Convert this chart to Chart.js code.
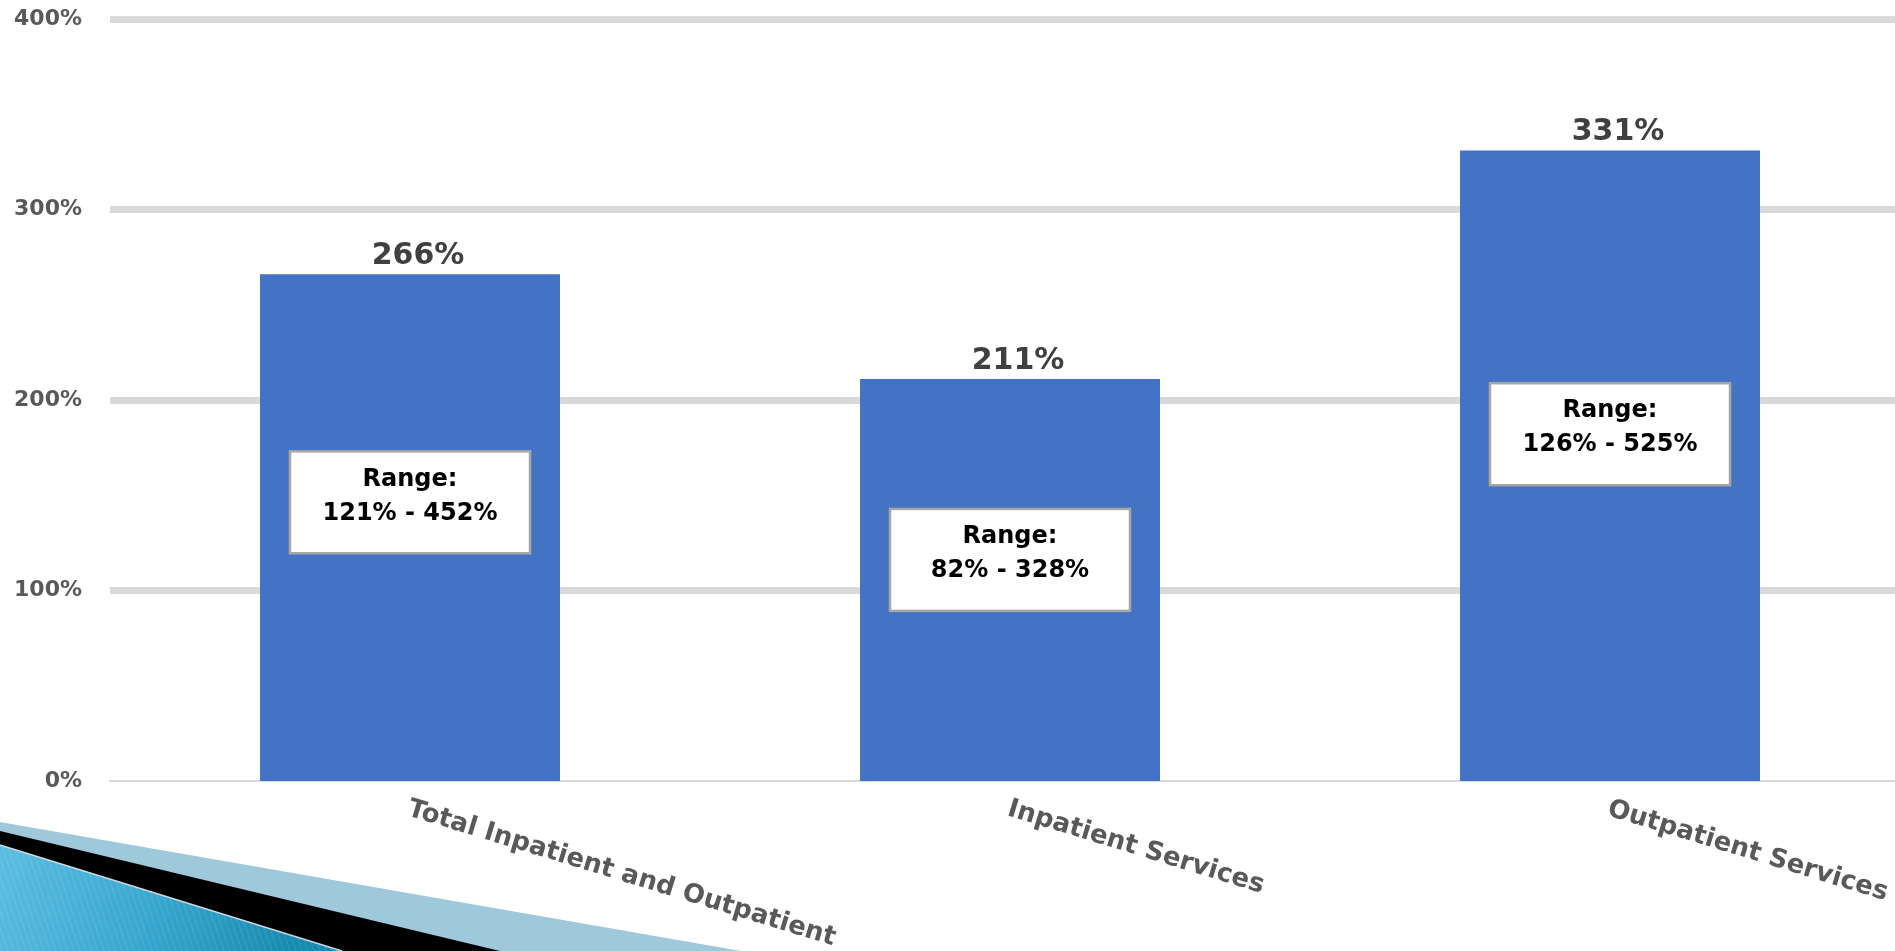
<!DOCTYPE html>
<html>
<head>
<meta charset="utf-8">
<title>Average and range by service line</title>
<script src="https://cdn.jsdelivr.net/npm/chart.js@4.4.1/dist/chart.umd.min.js"></script>
<style>
  html, body { margin: 0; padding: 0; background: #fff; overflow: hidden; }
  #wrap { width: 1895px; height: 951px; overflow: hidden; }
</style>
</head>
<body>
<div id="wrap"><canvas id="chart" width="1912" height="951"></canvas></div>
<script>
const categories = ['Total Inpatient and Outpatient', 'Inpatient Services', 'Outpatient Services'];
const averagePct = [266, 211, 331];
const rangeLow = [121, 82, 126];
const rangeHigh = [452, 328, 525];

const FONT = 'DejaVu Sans';

// slide theme corner: pale band, black band and striped blue wedge
const slideCorner = {
    id: 'slideCorner',
    beforeDraw(chart) {
        const ctx = chart.ctx;
        const h = chart.height;
        ctx.save();
        ctx.fillStyle = '#fff';
        ctx.fillRect(0, 0, chart.width, h);

        ctx.fillStyle = '#9fc9da';
        ctx.beginPath();
        ctx.moveTo(0, h - 129);
        ctx.lineTo(741, h);
        ctx.lineTo(0, h);
        ctx.closePath();
        ctx.fill();

        ctx.fillStyle = '#000';
        ctx.beginPath();
        ctx.moveTo(0, h - 120);
        ctx.lineTo(500, h);
        ctx.lineTo(0, h);
        ctx.closePath();
        ctx.fill();

        const grad = ctx.createLinearGradient(0, h - 106, 300, h);
        grad.addColorStop(0, '#5cbde2');
        grad.addColorStop(0.5, '#3aa7cf');
        grad.addColorStop(1, '#148aae');
        ctx.fillStyle = grad;
        ctx.beginPath();
        ctx.moveTo(0, h - 106);
        ctx.lineTo(342, h);
        ctx.lineTo(0, h);
        ctx.closePath();
        ctx.fill();

        // fine stripes inside the wedge
        ctx.save();
        ctx.clip();
        ctx.strokeStyle = 'rgba(255,255,255,0.10)';
        ctx.lineWidth = 1.2;
        for (let x = -60; x < 360; x += 6) {
            ctx.beginPath();
            ctx.moveTo(x, h - 110);
            ctx.lineTo(x + 38, h);
            ctx.stroke();
        }
        ctx.restore();

        ctx.strokeStyle = 'rgba(225,232,236,0.9)';
        ctx.lineWidth = 1.5;
        ctx.beginPath();
        ctx.moveTo(0, h - 106);
        ctx.lineTo(342, h);
        ctx.stroke();
        ctx.restore();
    }
};

// value above each bar and the white "Range" box inside it
const barNotes = {
    id: 'barNotes',
    afterDatasetsDraw(chart, args, opts) {
        const ctx = chart.ctx;
        const yScale = chart.scales.y;
        const meta = chart.getDatasetMeta(0);
        ctx.save();
        meta.data.forEach((bar, i) => {
            const cx = bar.x;
            const cy = yScale.getPixelForValue(averagePct[i] * opts.boxAt);
            const w = opts.boxWidth;
            const hh = opts.boxHeight;

            ctx.fillStyle = '#fff';
            ctx.fillRect(cx - w / 2, cy - hh / 2, w, hh);
            ctx.strokeStyle = '#a6a6a6';
            ctx.lineWidth = 2.5;
            ctx.strokeRect(cx - w / 2, cy - hh / 2, w, hh);

            ctx.fillStyle = '#000';
            ctx.font = 'bold 24px "' + FONT + '"';
            ctx.textAlign = 'center';
            ctx.textBaseline = 'middle';
            ctx.fillText('Range:', cx, cy - 23);
            ctx.fillText(rangeLow[i] + '% - ' + rangeHigh[i] + '%', cx, cy + 11);

            ctx.fillStyle = '#404040';
            ctx.font = 'bold 30px "' + FONT + '"';
            ctx.textBaseline = 'alphabetic';
            ctx.fillText(averagePct[i] + '%', cx + 8, bar.y - 10);
        });
        ctx.restore();
    }
};

// category names slanted downward to the right, starting at the bar centre
const slantedLabels = {
    id: 'slantedLabels',
    afterDraw(chart, args, opts) {
        const ctx = chart.ctx;
        const xScale = chart.scales.x;
        ctx.save();
        ctx.fillStyle = '#595959';
        ctx.font = 'bold 26px "' + FONT + '"';
        ctx.textAlign = 'left';
        ctx.textBaseline = 'top';
        categories.forEach((name, i) => {
            const px = xScale.getPixelForTick(i);
            ctx.save();
            ctx.translate(px + 2, xScale.top + 15);
            ctx.rotate(opts.angle * Math.PI / 180);
            ctx.fillText(name, 0, 0);
            ctx.restore();
        });
        ctx.restore();
    }
};

new Chart(document.getElementById('chart'), {
    type: 'bar',
    data: {
        labels: categories,
        datasets: [{
            data: averagePct,
            backgroundColor: '#4472c4',
            borderWidth: 0,
            categoryPercentage: 1,
            barPercentage: 0.5
        }]
    },
    plugins: [slideCorner, barNotes, slantedLabels],
    options: {
        responsive: false,
        animation: false,
        layout: {
            padding: { top: 19, right: 2, left: 0, bottom: 0 }
        },
        plugins: {
            legend: { display: false },
            tooltip: { enabled: false },
            barNotes: { boxAt: 0.55, boxWidth: 240, boxHeight: 102 },
            slantedLabels: { angle: 17 }
        },
        scales: {
            x: {
                grid: { display: false },
                border: { display: true, color: '#d9d9d9', width: 2 },
                ticks: { display: false },
                afterFit(scale) { scale.height = 170; }
            },
            y: {
                min: 0,
                max: 400,
                border: { display: false },
                grid: {
                    color: '#d9d9d9',
                    lineWidth: (ctx) => (ctx.tick && ctx.tick.value === 0) ? 0 : 7,
                    drawTicks: false
                },
                ticks: {
                    stepSize: 100,
                    padding: 28,
                    color: '#595959',
                    font: { family: FONT, size: 22, weight: 'bold' },
                    callback: (v) => v + '%'
                },
                afterFit(scale) {
                    // the tick padding only pushes labels sideways, not the plot top
                    scale.width = 110;
                    scale.paddingTop = 0;
                    scale.paddingBottom = 0;
                }
            }
        }
    }
});
</script>
</body>
</html>
